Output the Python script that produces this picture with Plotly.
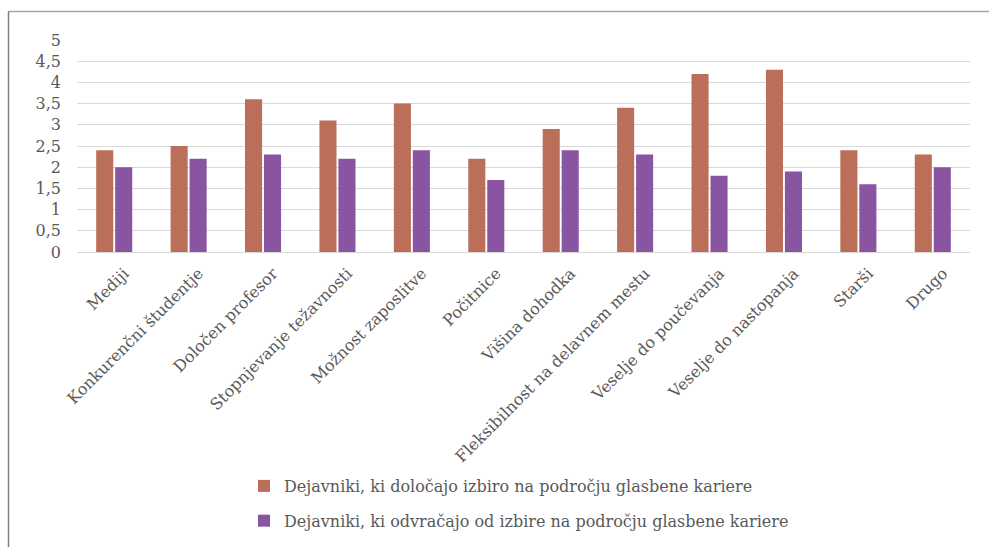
import plotly.graph_objects as go

categories = ["Mediji", "Konkurenčni študentje", "Določen profesor", "Stopnjevanje težavnosti",
              "Možnost zaposlitve", "Počitnice", "Višina dohodka", "Fleksibilnost na delavnem mestu",
              "Veselje do poučevanja", "Veselje do nastopanja", "Starši", "Drugo"]
series1_name = "Dejavniki, ki določajo izbiro na področju glasbene kariere"
series2_name = "Dejavniki, ki odvračajo od izbire na področju glasbene kariere"
series1 = [2.4, 2.5, 3.6, 3.1, 3.5, 2.2, 2.9, 3.4, 4.2, 4.3, 2.4, 2.3]
series2 = [2.0, 2.2, 2.3, 2.2, 2.4, 1.7, 2.4, 2.3, 1.8, 1.9, 1.6, 2.0]
y_ticks = [0, 0.5, 1, 1.5, 2, 2.5, 3, 3.5, 4, 4.5, 5]
y_tick_labels = ["0", "0,5", "1", "1,5", "2", "2,5", "3", "3,5", "4", "4,5", "5"]

FONT = "DejaVu Serif"
TXT = "#595959"

fig = go.Figure()
fig.add_trace(go.Bar(x=categories, y=series1, name=series1_name, marker_color="#BB6F58",
                     marker_line_width=0, legendgroup="a"))
fig.add_trace(go.Bar(x=categories, y=series2, name=series2_name, marker_color="#8A55A0",
                     marker_line_width=0, legendgroup="b"))

W, H = 989, 547
ml, mr, mt, mb = 77, 19, 40, 295
pw, ph = W - ml - mr, H - mt - mb

def px_x(x):
    return (x - ml) / pw

def px_y(y):
    return (H - mb - y) / ph

fig.update_layout(
    width=W, height=H,
    margin=dict(l=ml, r=mr, t=mt, b=mb, autoexpand=False),
    paper_bgcolor="white", plot_bgcolor="white",
    barmode="group", bargap=0.49, bargroupgap=0.1,
    separators=",.",
    font=dict(family=FONT, color=TXT, size=16),
    showlegend=True,
    legend=dict(x=px_x(244), y=px_y(469), xanchor="left", yanchor="top",
                orientation="v", traceorder="grouped", tracegroupgap=11,
                font=dict(family=FONT, size=16, color=TXT), itemwidth=30),
    xaxis=dict(tickangle=-45, tickfont=dict(family=FONT, size=16, color=TXT),
               showgrid=False, showline=False, ticks="", automargin=False,
               ticklabelstandoff=8, ticklabelshift=10),
    yaxis=dict(range=[0, 5], tickvals=y_ticks, ticktext=y_tick_labels,
               tickfont=dict(family=FONT, size=16, color=TXT),
               showgrid=True, gridcolor="#D9D9D9", gridwidth=1.3,
               zeroline=True, zerolinecolor="#D9D9D9", zerolinewidth=1.3,
               ticks="", ticklabelstandoff=15, automargin=False),
    shapes=[
        dict(type="line", xref="paper", yref="paper", x0=px_x(8), x1=px_x(989),
             y0=px_y(11.5), y1=px_y(11.5), line=dict(color="#A6A6A6", width=1.5)),
        dict(type="line", xref="paper", yref="paper", x0=px_x(8.5), x1=px_x(8.5),
             y0=px_y(11.5), y1=px_y(547), line=dict(color="#7F7F7F", width=1.5)),
    ],
)

fig.write_html("out.html", config={"displayModeBar": False},
               post_script="document.body.style.margin='0';document.body.style.padding='0';")
